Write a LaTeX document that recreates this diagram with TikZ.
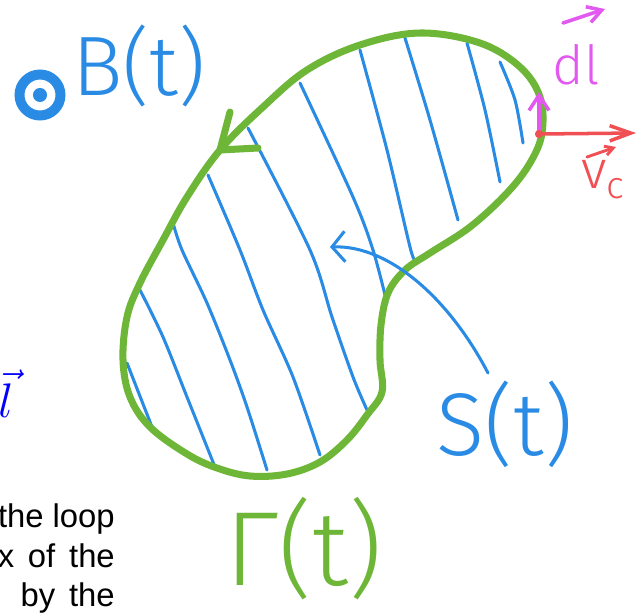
\documentclass[tikz,border=0pt]{standalone}
\usepackage{fontspec}
\setmainfont{Liberation Sans}
\newfontfamily\handfont{Fira Sans Light}
\usetikzlibrary{positioning, arrows.meta}

\definecolor{loopgreen}{RGB}{110,182,55}
\definecolor{surfblue}{RGB}{42,139,228}
\definecolor{dlpink}{RGB}{226,88,240}
\definecolor{vcred}{RGB}{240,80,84}

\begin{document}
\begin{tikzpicture}[x=0.03cm, y=-0.03cm,
    gloop/.style={draw=loopgreen, line width=6pt, line cap=round, line join=round},
    hatch/.style={draw=surfblue, line width=2.6pt, line cap=round, line join=round},
    vecline/.style={line width=3pt, line cap=round, line join=round},
    hand/.style={font=\handfont\fontsize{#1}{#1}\selectfont, inner sep=0pt},
    para/.style={font=\fontsize{28}{28}\selectfont, inner sep=0pt, anchor=base east}
]
    \useasboundingbox (0,0) rectangle (644,612);

    % hatching of the surface
    \draw[hatch] plot[smooth] coordinates {(127,363) (152,427)};
    \draw[hatch] plot[smooth] coordinates {(140,290) (163,337) (187,397) (215,467)};
    \draw[hatch] plot[smooth] coordinates {(173,223) (182,250) (207,303) (230,360) (247,407) (267,470)};
    \draw[hatch] plot[smooth] coordinates {(208,175) (240,250) (263,310) (293,377) (320,455)};
    \draw[hatch] plot[smooth] coordinates {(248,128) (310,250) (332,317) (353,377) (367,410)};
    \draw[hatch] plot[smooth] coordinates {(300,83) (353,197) (373,250) (387,303)};
    \draw[hatch] plot[smooth] coordinates {(360,50) (387,150) (410,247) (415,260)};
    \draw[hatch] plot[smooth] coordinates {(405,38) (430,120) (458,220)};
    \draw[hatch] plot[smooth] coordinates {(467,43) (485,110) (500,182)};
    \draw[hatch] plot[smooth] coordinates {(500,62) (515,100) (523,143)};

    % the loop and its orientation
    \draw[gloop] plot[smooth cycle, tension=0.6] coordinates {
        (420,33) (480,43) (520,67) (540,97) (542,133) (530,163) (507,193)
        (470,227) (430,253) (405,270) (388,293) (381,325) (380,360) (382,392)
        (367,415) (347,440) (320,462) (287,474) (250,476) (217,468) (187,454)
        (150,427) (130,397) (123,360) (127,317) (140,283) (163,240) (187,197)
        (220,150) (263,107) (307,70) (360,45)};
    \coordinate (gtip) at (220,150);
    \draw[gloop] (230,112) -- (gtip) -- (258,148);

    % field out of the page
    \node[draw=surfblue, line width=8.5pt, circle, minimum size=35pt, inner sep=0pt] (bsym) at (40,95) {};
    \fill[surfblue] (bsym.center) circle (6pt);
    \node[hand=72, text=surfblue] (blab) at (139,66) {B(t)};

    % labels of loop and surface
    \node[hand=76, text=surfblue] (slab) at (505,424) {S(t)};
    \node[hand=90, text=loopgreen] (glab) at (304,549) {Γ(t)};
    \coordinate (stip) at (330,247);
    \draw[hatch, -{Straight Barb[length=11pt, width=26pt]}] (488,373) .. controls (450,300) and (390,245) .. (stip);

    % line element and velocity at a point of the loop
    \coordinate (p) at (539,134);
    \coordinate (dltip) at (539,92);
    \coordinate (vtip) at (636,133);
    \draw[vecline, draw=dlpink, -{Straight Barb[length=13pt, width=17pt]}] (p) -- (dltip);
    \draw[vecline, draw=vcred, -{Straight Barb[length=18pt, width=13pt]}] (p) -- (vtip);
    \fill[vcred] (p) circle (3.5pt);

    \node[hand=46, text=dlpink] (dllab) at (576,65) {dl};
    \coordinate (dlfrom) at (563,23);
    \coordinate (dlto) at (605,9);
    \draw[vecline, draw=dlpink, -{Straight Barb[length=12pt, width=14pt]}] (dlfrom) -- (dlto);

    \node[hand=46, text=vcred] (vclab) at (603,180) {v\textsubscript{c}};
    \coordinate (vcfrom) at (587,157);
    \coordinate (vcto) at (616,147);
    \draw[vecline, draw=vcred, line width=2.5pt, -{Straight Barb[length=7pt, width=8pt]}] (vcfrom) -- (vcto);

    % cut-off text at the left
    \node[text=blue, anchor=base west, inner sep=0pt] (lvec) at (-2,417) {\scalebox{2}{\fontsize{20.74}{21}\selectfont$\vec{l}$}};
    \node[para] (txt1) at (115,527) {the loop};
    \node[para] (txt2) at (115,567) {x\hspace{0.42em}of\hspace{0.42em}the};
    \node[para] (txt3) at (115,606) {by\hspace{0.42em}the};
\end{tikzpicture}
\end{document}
